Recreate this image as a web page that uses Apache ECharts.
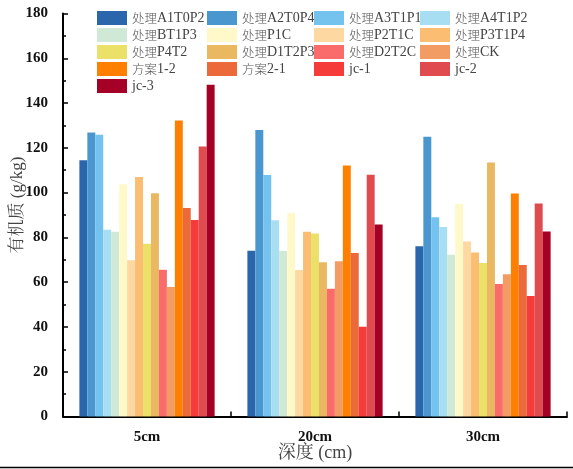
<!DOCTYPE html>
<html><head><meta charset="utf-8">
<script src="https://cdn.jsdelivr.net/npm/echarts@6/dist/echarts.min.js"></script>
<style>html,body{margin:0;padding:0;background:#fff}#c{width:573px;height:469px}</style>
</head><body><div id="c"></div>
<script>
const categories = ['5cm', '20cm', '30cm'];
const seriesNames = ['处理A1T0P2','处理A2T0P4','处理A3T1P1','处理A4T1P2','处理BT1P3','处理P1C','处理P2T1C','处理P3T1P4','处理P4T2','处理D1T2P3','处理D2T2C','处理CK','方案1-2','方案2-1','jc-1','jc-2','jc-3'];
const colors = ['#2b66ad','#4a97d0','#74c3ef','#a8def1','#cfe9d6','#fff9c9','#fdd8a0','#fbbd71','#ece168','#e9b860','#fa6b6b','#f29b63','#ff8000','#ec6a3a','#f63b3b','#e04b50','#a50026'];
const v5cm  = [114.5,126.8,125.8,83.4,82.5,103.7,69.8,107,77.2,99.7,65.6,57.8,132.2,93.1,87.8,120.6,148.2];
const v20cm = [74,128,107.9,87.6,73.9,90.9,65.4,82.5,81.7,68.9,57.1,69.3,112.1,73,40.1,108,85.8];
const v30cm = [76,125,89,84.6,72.3,95,78.2,73.2,68.6,113.4,59.2,63.5,99.6,67.7,53.8,95.1,82.6];
const yTicks = [0,20,40,60,80,100,120,140,160,180];

const serif = "'Liberation Serif','Times New Roman','Noto Serif CJK SC','Noto Sans CJK SC',serif";
const series = seriesNames.map((n,i)=>({
  name:n, type:'bar', barGap:0, barCategoryGap:'19.5%',
  itemStyle:{color:colors[i]},
  data:[v5cm[i], v20cm[i], v30cm[i]]
}));
const cols = [[0,4,8,12,16],[1,5,9,13],[2,6,10,14],[3,7,11,15]];
const colLeft = [97,207,314,420];
const legends = cols.map((c,k)=>({
  orient:'vertical', left:colLeft[k], top:11, itemWidth:30, itemHeight:14, itemGap:3,
  icon:'rect', padding:0,
  formatter:n=>{
    const m = n.match(/^([\u4e00-\u9fff]*)(.*)$/);
    return (m[1]?'{c|'+m[1]+'}':'')+(m[2]?'{l|'+m[2]+'}':'');
  },
  textStyle:{fontFamily:serif, fontSize:14, color:'#444', lineHeight:14,
    rich:{c:{fontFamily:"'Noto Sans CJK SC',sans-serif",fontSize:12.5,fontWeight:300,color:'#555',lineHeight:14},
          l:{fontFamily:serif,fontSize:14,color:'#444',lineHeight:14}}},
  data:c.map(i=>seriesNames[i])
}));
const chart = echarts.init(document.getElementById('c'));
chart.setOption({
  animation:false,
  legend:legends,
  grid:{left:63,right:6,top:13.5,bottom:52.5,containLabel:false,outerBoundsMode:'none'},
  xAxis:[{
    type:'category', data:categories,
    axisLine:{lineStyle:{color:'#000',width:2}},
    axisTick:{show:true,inside:true,length:5,lineStyle:{color:'#000',width:1.5}},
    axisLabel:{fontFamily:serif,fontSize:15,fontWeight:'bold',color:'#111',margin:13},
    name:'深度 (cm)', nameLocation:'middle', nameGap:28, nameMoveOverlap:false,
    nameTextStyle:{fontFamily:serif,fontSize:18,color:'#444'}
  },{
    type:'category', data:categories, position:'bottom',
    axisLine:{show:false},
    axisTick:{show:true,inside:true,alignWithLabel:true,length:5,lineStyle:{color:'#000',width:1.5}},
    axisLabel:{show:false}
  }],
  yAxis:{
    type:'value', min:0, max:180, interval:20,
    axisLine:{show:true,lineStyle:{color:'#000',width:2}},
    axisTick:{show:true,inside:true,length:5,lineStyle:{color:'#000',width:1.5}},
    minorTick:{show:true,splitNumber:2,length:3,lineStyle:{color:'#000',width:1.5}},
    splitLine:{show:false},
    axisLabel:{fontFamily:serif,fontSize:15,fontWeight:'bold',color:'#111',margin:15,
      formatter:v=>yTicks.includes(v)?String(v):''},
    name:'有机质 (g/kg)', nameLocation:'middle', nameGap:37, nameMoveOverlap:false,
    nameTextStyle:{fontFamily:serif,fontSize:17,color:'#444',padding:[0,0,0,20]}
  },
  series:series,
  graphic:[{type:'line',shape:{x1:0,y1:467.5,x2:573,y2:467.5},style:{stroke:'#000',lineWidth:1.5}}]
});
</script></body></html>
